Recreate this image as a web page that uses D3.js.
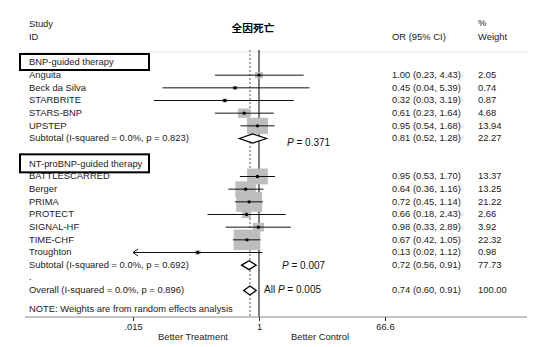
<!DOCTYPE html>
<html>
<head>
<meta charset="utf-8">
<script src="https://cdn.jsdelivr.net/npm/d3@7"></script>
<style>
  html, body { margin: 0; padding: 0; background: #fff; }
  svg { display: block; }
</style>
</head>
<body>
<svg id="chart" width="539" height="347"></svg>
<script>
// Forest plot: all-cause mortality, BNP- and NT-proBNP-guided therapy vs control

const title = "全因死亡";

const bnpStudies = ["Anguita", "Beck da Silva", "STARBRITE", "STARS-BNP", "UPSTEP"];
const bnpOR      = [1.00, 0.45, 0.32, 0.61, 0.95];
const bnpLo      = [0.23, 0.04, 0.03, 0.23, 0.54];
const bnpHi      = [4.43, 5.39, 3.19, 1.64, 1.68];
const bnpWeight  = [2.05, 0.74, 0.87, 4.68, 13.94];
const bnpSubtotal = [0.81, 0.52, 1.28, 22.27];   // OR, lower, upper, weight

const ntStudies = ["BATTLESCARRED", "Berger", "PRIMA", "PROTECT", "SIGNAL-HF", "TIME-CHF", "Troughton"];
const ntOR      = [0.95, 0.64, 0.72, 0.66, 0.98, 0.67, 0.13];
const ntLo      = [0.53, 0.36, 0.45, 0.18, 0.33, 0.42, 0.015];
const ntHi      = [1.70, 1.16, 1.14, 2.43, 2.89, 1.05, 1.12];
const ntWeight  = [13.37, 13.25, 21.22, 2.66, 3.92, 22.32, 0.98];
const ntSubtotal = [0.72, 0.56, 0.91, 77.73];

const overall = [0.74, 0.60, 0.91, 100.00];

const groupLabels = ["BNP-guided therapy", "NT-proBNP-guided therapy"];
const subtotalLabels = ["Subtotal  (I-squared = 0.0%, p = 0.823)", "Subtotal  (I-squared = 0.0%, p = 0.692)"];
const overallLabel = "Overall  (I-squared = 0.0%, p = 0.896)";
const pLabels = ["0.371", "0.007", "0.005"];
const tickValues = [0.015, 1, 66.6];
const tickLabels = [".015", "1", "66.6"];
const axisTitles = ["Better Treatment", "Better Control"];
const note = "NOTE: Weights are from random effects analysis";

const svg = d3.select("#chart");
const FONT = "'Liberation Sans', Arial, Helvetica, sans-serif";
const INK = "#222";

// row layout: build ordered rows
const rows = [];
rows.push({type: "group", label: groupLabels[0]});
bnpStudies.forEach((s, i) => rows.push({type: "study", label: s, or: bnpOR[i], lo: bnpLo[i], hi: bnpHi[i], w: bnpWeight[i]}));
rows.push({type: "sub", label: subtotalLabels[0], or: bnpSubtotal[0], lo: bnpSubtotal[1], hi: bnpSubtotal[2], w: bnpSubtotal[3], p: pLabels[0]});
rows.push({type: "blank"});
rows.push({type: "group", label: groupLabels[1]});
ntStudies.forEach((s, i) => rows.push({type: "study", label: s, or: ntOR[i], lo: ntLo[i], hi: ntHi[i], w: ntWeight[i]}));
rows.push({type: "sub", label: subtotalLabels[1], or: ntSubtotal[0], lo: ntSubtotal[1], hi: ntSubtotal[2], w: ntSubtotal[3], p: pLabels[1]});
rows.push({type: "dot", label: "."});
rows.push({type: "overall", label: overallLabel, or: overall[0], lo: overall[1], hi: overall[2], w: overall[3], p: pLabels[2]});

const y = d3.scalePoint().domain(d3.range(rows.length)).range([62.5, 290.5]);
const x = d3.scaleLog().domain([1 / 66.6, 66.6]).range([133, 385]);

const axisY = 317;
const plotTop = 50;

// text helper with a slightly widened face
function txt(xp, yp, s, opt = {}) {
  return svg.append("text")
    .attr("transform", `translate(${xp},${yp}) scale(${opt.sx || 1.12},1)`)
    .attr("dy", "0.35em")
    .attr("font-family", opt.family || FONT)
    .attr("font-size", opt.size || 8.4)
    .attr("font-weight", opt.weight || "normal")
    .attr("text-anchor", opt.anchor || "start")
    .attr("fill", opt.fill || INK)
    .text(s);
}

const round2 = v => (Math.round(v * 100 + 1e-9) / 100).toFixed(2);
const ciText = r => `${round2(r.or)} (${round2(r.lo)}, ${round2(r.hi)})`;

// header
txt(29, 24, "Study");
txt(29, 37, "ID");
txt(253, 28, title, {family: "'Noto Sans CJK SC', sans-serif", size: 10, weight: "bold", anchor: "middle", sx: 1.08, fill: "#000"});
txt(392, 37, "OR (95% CI)");
txt(478, 23, "%");
txt(478, 37, "Weight");
svg.append("line").attr("x1", 25).attr("x2", 527).attr("y1", 52).attr("y2", 52)
  .attr("stroke", "#e2e2e2").attr("stroke-width", 1);

// reference lines
svg.append("line").attr("x1", x(1)).attr("x2", x(1)).attr("y1", plotTop).attr("y2", axisY)
  .attr("stroke", "#111").attr("stroke-width", 1.1);
svg.append("line").attr("x1", x(overall[0])).attr("x2", x(overall[0])).attr("y1", plotTop).attr("y2", axisY)
  .attr("stroke", "#555").attr("stroke-width", 1).attr("stroke-dasharray", "2,2");

// study markers
const boxK = 5.64, boxAspect = 1.3;
const xmin = x.domain()[0];
rows.forEach((r, i) => {
  const yy = y(i);
  if (r.type === "study") {
    const bw = boxK * Math.sqrt(r.w), bh = bw / boxAspect;
    svg.append("rect").attr("x", x(r.or) - bw / 2).attr("y", yy - bh / 2)
      .attr("width", bw).attr("height", bh).attr("fill", "#bdbdbd");
    const clipped = r.lo < xmin;
    const x1 = x(Math.max(r.lo, xmin));
    svg.append("line").attr("x1", x1).attr("x2", x(r.hi)).attr("y1", yy).attr("y2", yy)
      .attr("stroke", "#111").attr("stroke-width", 1);
    if (clipped) {
      svg.append("path")
        .attr("d", `M${x1 + 5},${yy - 3.5} L${x1},${yy} L${x1 + 5},${yy + 3.5}`)
        .attr("fill", "none").attr("stroke", "#111").attr("stroke-width", 1);
    }
    svg.append("circle").attr("cx", x(r.or)).attr("cy", yy).attr("r", 1.7).attr("fill", "#000");
  }
  if (r.type === "sub" || r.type === "overall") {
    const h = 4.5;
    svg.append("path")
      .attr("d", `M${x(r.lo)},${yy} L${x(r.or)},${yy - h} L${x(r.hi)},${yy} L${x(r.or)},${yy + h} Z`)
      .attr("fill", "#fff").attr("stroke", "#000").attr("stroke-width", 1.3);
  }
});

// left labels and right columns
rows.forEach((r, i) => {
  const yy = y(i);
  if (r.type === "blank") return;
  if (r.type === "dot") { txt(29, yy - 1, "."); return; }
  txt(29, yy, r.label);
  if (r.type === "group") {
    const bh = r.label === groupLabels[0] ? 16 : 18;
    svg.append("rect").attr("x", 20).attr("y", yy - bh / 2 - 0.5).attr("width", 129).attr("height", bh)
      .attr("fill", "none").attr("stroke", "#000").attr("stroke-width", 2);
    return;
  }
  txt(392, yy, ciText(r));
  txt(478, yy, r.w.toFixed(2));
});

// pooled p-values
const pRows = rows.map((r, i) => [r, i]).filter(([r]) => r.p);
const pX = [287, 282, 282];
const pDy = [3.5, 0, -1.5];
pRows.forEach(([r, i], k) => {
  const t = svg.append("text")
    .attr("x", pX[k]).attr("y", y(i) + pDy[k]).attr("dy", "0.35em")
    .attr("font-family", FONT).attr("font-size", 10).attr("fill", "#111");
  if (r.type === "overall") {
    t.attr("x", pX[k] - 18);
    t.append("tspan").text("All ");
  }
  t.append("tspan").attr("font-style", "italic").text("P");
  t.append("tspan").text(" = " + r.p);
});

// note
txt(29, 309.5, note);

// axis
svg.append("line").attr("x1", 25).attr("x2", 527).attr("y1", axisY).attr("y2", axisY)
  .attr("stroke", "#8a8a8a").attr("stroke-width", 1.2);
const axis = d3.axisBottom(x).tickValues(tickValues)
  .tickFormat((d, i) => tickLabels[i]).tickSize(4).tickPadding(3);
const ag = svg.append("g").attr("transform", `translate(0,${axisY})`).call(axis);
ag.select(".domain").remove();
ag.selectAll(".tick line").attr("stroke", "#333");
ag.selectAll(".tick text")
  .attr("font-family", FONT).attr("font-size", 8.4).attr("fill", INK)
  .attr("transform", "scale(1.12,1)")
  .attr("x", function(d) { return 0; });
txt(193, 337.5, axisTitles[0], {anchor: "middle"});
txt(320, 337.5, axisTitles[1], {anchor: "middle"});
</script>
</body>
</html>
